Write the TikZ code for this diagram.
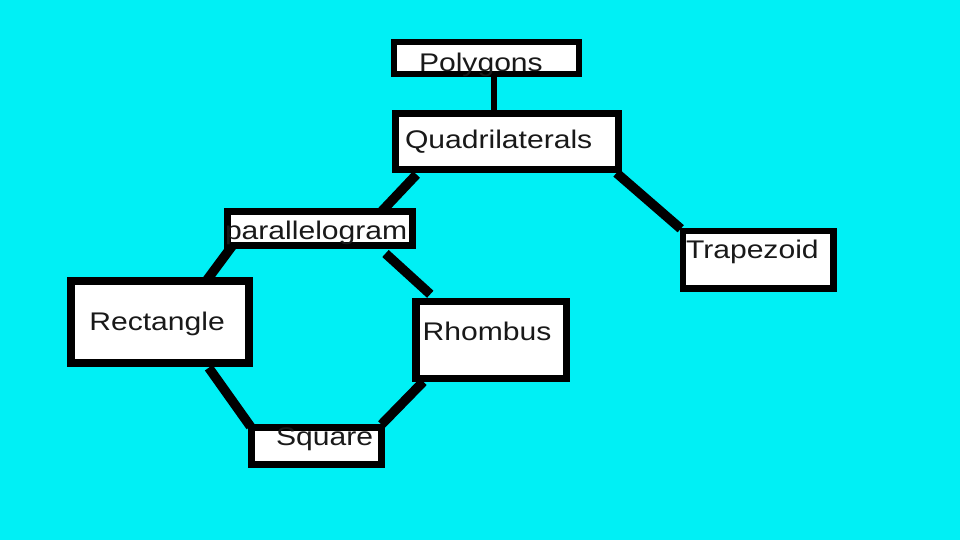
\documentclass[tikz,border=0pt]{standalone}
\usepackage{fontspec}
\setmainfont{Liberation Sans}[FakeStretch=1.18]
\usetikzlibrary{calc}
\definecolor{bgcyan}{RGB}{0,240,245}
\definecolor{inkc}{RGB}{25,25,25}
\tikzset{
  box/.style={draw=black, line width=7pt, fill=white, rectangle, inner sep=0pt},
  lbl/.style={anchor=base west, inner sep=0pt, outer sep=0pt, text=inkc,
              font=\fontsize{25.5}{30}\selectfont},
  link/.style={draw=black, line width=9.5pt}
}
\begin{document}
\begin{tikzpicture}[x=1pt, y=-1pt]
\fill[bgcyan] (0,0) rectangle (960,540);
\useasboundingbox (0,0) rectangle (960,540);

% boxes
\node[box, line width=6pt, minimum width=185pt, minimum height=32pt] (poly) at (486.5,58) {};
\node[box, minimum width=223pt, minimum height=56pt] (quad) at (506.5,141.5) {};
\node[box, minimum width=185pt, minimum height=34pt] (para) at (319.5,228) {};
\node[box, line width=6.5pt, minimum width=150.5pt, minimum height=57.5pt] (trap) at (758.25,259.75) {};
\node[box, line width=7.5pt, minimum width=178pt, minimum height=82pt] (rect) at (160,322) {};
\node[box, line width=7.5pt, minimum width=150.5pt, minimum height=77pt] (rhom) at (491.25,340) {};
\node[box, minimum width=130pt, minimum height=37pt] (sq) at (316,445.5) {};

% connectors
\draw[link, line width=6.5pt] ($(poly.south)+(7.5,0)$) -- ($(quad.north)+(-12.5,6.5)$);
\draw[link] ($(quad.south west)+(25,1.5)$) -- ($(para.north east)+(-34,4)$);
\draw[link] ($(quad.south east)+(-5,0)$) -- ($(trap.north west)+(1,1)$);
\draw[link] ($(para.south west)+(9,-3)$) -- ($(rect.north east)+(-46,3)$);
\draw[link] ($(para.south east)+(-30,5)$) -- ($(rhom.north west)+(18,-3.5)$);
\draw[link] ($(rect.south east)+(-44,1)$) -- ($(sq.north west)+(3,3)$);
\draw[link] ($(rhom.south west)+(11,-0.5)$) -- ($(sq.north east)+(-3,1)$);

% labels
\node[lbl] (polyt) at (419,71.7) {Polygons};
\node[lbl] (quadt) at (405,148.3) {Quadrilaterals};
\node[lbl] (parat) at (225,239.3) {parallelogram};
\node[lbl] (trapt) at (686,258.3) {Trapezoid};
\node[lbl] (rectt) at (89.3,330) {Rectangle};
\node[lbl] (rhomt) at (422.6,340) {Rhombus};
\node[lbl] (sqt) at (276,445) {Square};
\end{tikzpicture}
\end{document}
